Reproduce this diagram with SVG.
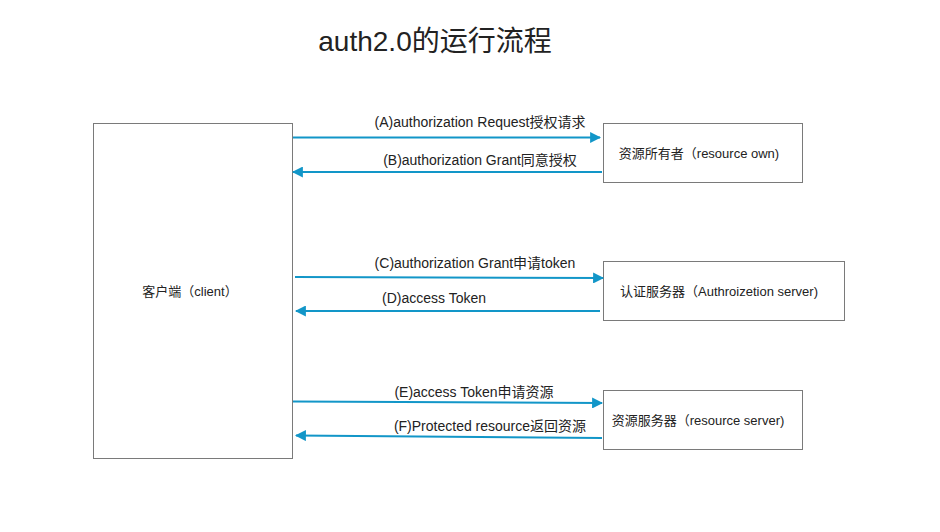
<svg xmlns="http://www.w3.org/2000/svg" width="940" height="532" viewBox="0 0 940 532">
<style>
.box{fill:#fff;stroke:#7a7a7a;stroke-width:1}
.t{font-family:"Liberation Sans","Noto Sans CJK SC",sans-serif;fill:#222}
.n{font-size:13px}
.l{font-size:14px}
.c{stroke:#1296c8;stroke-width:2;fill:none}
</style>
<defs>
<marker id="ah" viewBox="0 0 10 10" refX="9" refY="5" markerWidth="5.5" markerHeight="5.5" orient="auto" markerUnits="strokeWidth">
<path d="M0,0 L10,5 L0,10 Z" fill="#1296c8"/>
</marker>
</defs>
<rect width="940" height="532" fill="#fff"/>
<text class="t" x="435" y="51" font-size="28" text-anchor="middle">auth2.0的运行流程</text>
<g id="client">
<rect class="box" x="93.5" y="123.5" width="199" height="335"/>
<text class="t n" x="190" y="296" text-anchor="middle">客户端（client）</text>
</g>
<g id="owner">
<rect class="box" x="603.5" y="123.5" width="199" height="59"/>
<text class="t n" x="699" y="158" text-anchor="middle">资源所有者（resource own)</text>
</g>
<g id="authserver">
<rect class="box" x="603.5" y="261.5" width="241" height="59"/>
<text class="t n" x="719" y="296" text-anchor="middle">认证服务器（Authroizetion server)</text>
</g>
<g id="resserver">
<rect class="box" x="603.5" y="390.5" width="199" height="59"/>
<text class="t n" x="698" y="425" text-anchor="middle">资源服务器（resource server)</text>
</g>
<g id="connectors">
<line class="c" x1="293" y1="137.5" x2="600" y2="137.5" marker-end="url(#ah)"/>
<line class="c" x1="602" y1="172" x2="293" y2="172" marker-end="url(#ah)"/>
<line class="c" x1="295" y1="277" x2="603" y2="278" marker-end="url(#ah)"/>
<line class="c" x1="600" y1="311" x2="296" y2="311" marker-end="url(#ah)"/>
<line class="c" x1="293" y1="401.5" x2="602" y2="403" marker-end="url(#ah)"/>
<line class="c" x1="602" y1="438" x2="296" y2="435.5" marker-end="url(#ah)"/>
<text class="t l" x="480" y="127" text-anchor="middle">(A)authorization Request授权请求</text>
<text class="t l" x="480" y="165" text-anchor="middle">(B)authorization Grant同意授权</text>
<text class="t l" x="475" y="268" text-anchor="middle">(C)authorization Grant申请token</text>
<text class="t l" x="434" y="303" text-anchor="middle">(D)access Token</text>
<text class="t l" x="474" y="397" text-anchor="middle">(E)access Token申请资源</text>
<text class="t l" x="490" y="431" text-anchor="middle">(F)Protected resource返回资源</text>
</g>
</svg>
